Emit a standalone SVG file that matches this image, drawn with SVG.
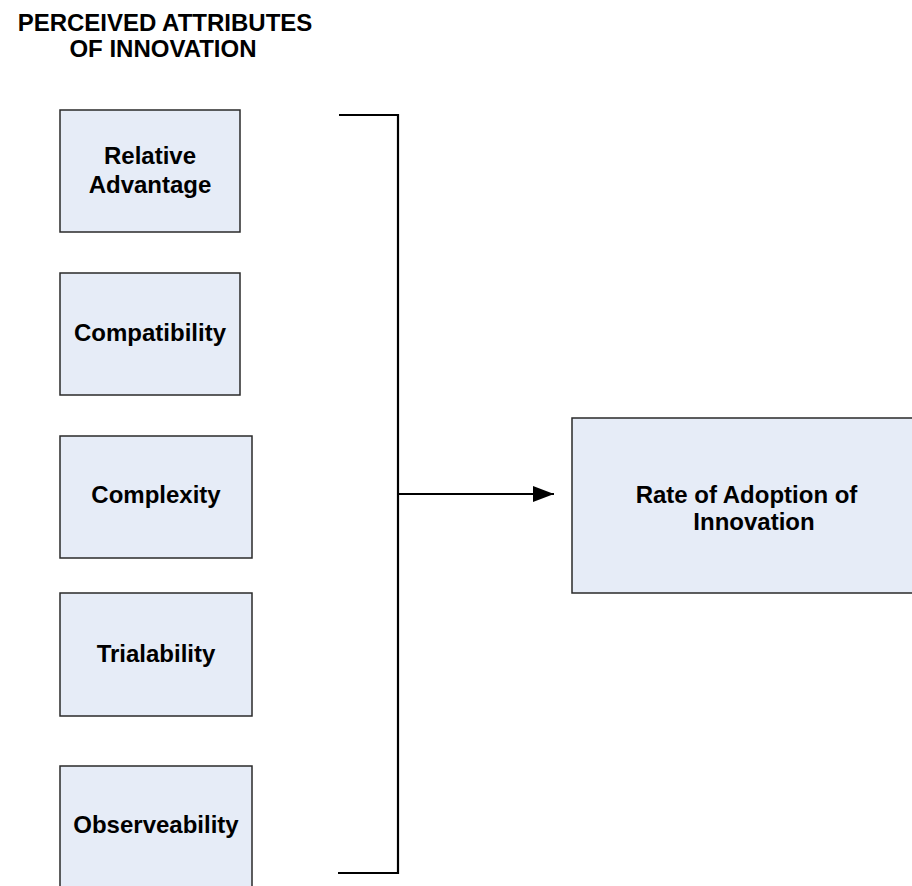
<svg xmlns="http://www.w3.org/2000/svg" width="912" height="886" viewBox="0 0 912 886">
<style>
.box{fill:#E6ECF7;stroke:#2a2a2a;stroke-width:1.5}
.t{font-family:"Liberation Sans",Arial,sans-serif;font-weight:bold;font-size:24px;fill:#000;text-anchor:middle}
.c{fill:none;stroke:#000;stroke-width:2.2}
</style>
<defs>
<marker id="ah" markerWidth="22" markerHeight="16" refX="21" refY="8" orient="auto" markerUnits="userSpaceOnUse">
<path d="M0,0 L21,8 L0,16 Z" fill="#000"/>
</marker>
</defs>
<rect width="912" height="886" fill="#fff"/>
<g id="title">
<text class="t" x="165" y="30.5">PERCEIVED ATTRIBUTES</text>
<text class="t" x="163" y="57">OF INNOVATION</text>
</g>
<g id="relative-advantage">
<rect class="box" x="60" y="110" width="180" height="122"/>
<text class="t" x="150" y="164">Relative</text>
<text class="t" x="150" y="192.5">Advantage</text>
</g>
<g id="compatibility">
<rect class="box" x="60" y="273" width="180" height="122"/>
<text class="t" x="150" y="341">Compatibility</text>
</g>
<g id="complexity">
<rect class="box" x="60" y="436" width="192" height="122"/>
<text class="t" x="156" y="503">Complexity</text>
</g>
<g id="trialability">
<rect class="box" x="60" y="593" width="192" height="123"/>
<text class="t" x="156" y="661.5">Trialability</text>
</g>
<g id="observeability">
<rect class="box" x="60" y="766" width="192" height="122"/>
<text class="t" x="156" y="833">Observeability</text>
</g>
<g id="rate-of-adoption">
<rect class="box" x="572" y="418" width="364" height="175"/>
<text class="t" x="746.5" y="502.5">Rate of Adoption of</text>
<text class="t" x="754" y="530">Innovation</text>
</g>
<g id="connectors">
<path class="c" d="M339,115 H398 V873 H338"/>
<path class="c" d="M398,494 H554" marker-end="url(#ah)"/>
</g>
</svg>
